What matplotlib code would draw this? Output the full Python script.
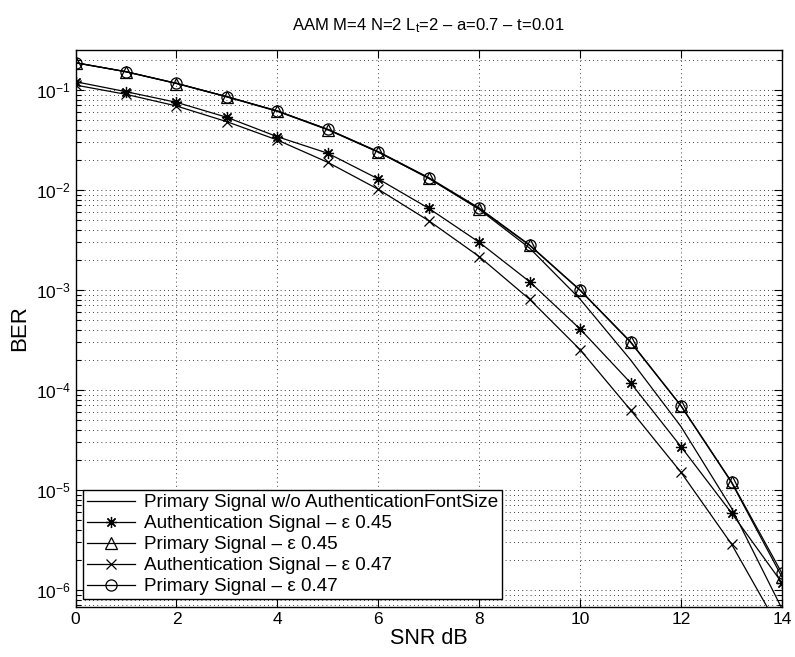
import matplotlib
matplotlib.use("Agg")
import matplotlib.pyplot as plt
from matplotlib.ticker import LogLocator, FixedLocator, FuncFormatter, NullFormatter
import math

plt.rcParams['font.family'] = ['Liberation Sans', 'DejaVu Sans']
plt.rcParams['mathtext.fontset'] = 'custom'
plt.rcParams['mathtext.rm'] = 'Liberation Sans'
plt.rcParams['mathtext.it'] = 'Liberation Sans'
plt.rcParams['mathtext.default'] = 'regular'

snr = [0, 1, 2, 3, 4, 5, 6, 7, 8, 9, 10, 11, 12, 13, 14]

ber_primary_noauth = [0.1875, 0.1525, 0.1166, 0.0858, 0.0617, 0.0404, 0.0240, 0.0131,
                      0.0064, 0.00262, 8.1e-4, 2.0e-4, 4.3e-5, 6.6e-6, 6.5e-7]
ber_auth_045 = [0.121, 0.0962, 0.0753, 0.0533, 0.0341, 0.0233, 0.0129, 0.00656,
                0.0030, 0.00121, 4.07e-4, 1.18e-4, 2.71e-5, 5.9e-6, 1.18e-6]
ber_primary_045 = [0.1870, 0.1520, 0.1160, 0.0852, 0.0612, 0.0400, 0.0239, 0.0131,
                   0.0065, 0.00279, 9.9e-4, 3.0e-4, 6.9e-5, 1.19e-5, 1.35e-6]
ber_auth_047 = [0.112, 0.0905, 0.0692, 0.0482, 0.0316, 0.0189, 0.01016, 0.00493,
                0.00216, 8.07e-4, 2.53e-4, 6.3e-5, 1.5e-5, 2.88e-6, 3.7e-7]
ber_primary_047 = [0.1875, 0.1525, 0.1166, 0.0858, 0.0617, 0.0404, 0.0242, 0.0133,
                   0.0066, 0.00282, 1.0e-3, 3.04e-4, 6.97e-5, 1.21e-5, 1.47e-6]

labels = ["Primary Signal w/o AuthenticationFontSize",
          "Authentication Signal – ε 0.45",
          "Primary Signal – ε 0.45",
          "Authentication Signal – ε 0.47",
          "Primary Signal – ε 0.47"]

title = "AAM M=4 N=2 L$_t$=2 – a=0.7 – t=0.01"
xticks = [0, 2, 4, 6, 8, 10, 12, 14]

fig = plt.figure(figsize=(7.95, 6.57), dpi=100)
ax = fig.add_axes([0.095, 0.0761, 0.8886, 0.8478])

lw = 0.9
ms = 8
ax.plot(snr, ber_primary_noauth, '-', color='k', lw=lw, label=labels[0])
ax.plot(snr, ber_auth_045, '-', color='k', lw=lw, marker=(8, 2, 0), ms=ms,
        mew=0.9, label=labels[1])
ax.plot(snr, ber_primary_045, '-', color='k', lw=lw, marker='^', ms=ms,
        mfc='none', mew=0.9, label=labels[2])
ax.plot(snr, ber_auth_047, '-', color='k', lw=lw, marker='x', ms=6.5,
        mew=0.9, label=labels[3])
ax.plot(snr, ber_primary_047, '-', color='k', lw=lw, marker='o', ms=ms,
        mfc='none', mew=0.9, label=labels[4])

ax.set_yscale('log')
ax.set_xlim(0, 14)
ax.set_ylim(10 ** -6.17, 10 ** -0.6)
ax.xaxis.set_major_locator(FixedLocator(xticks))
ax.yaxis.set_major_locator(LogLocator(base=10, numticks=20))
ax.yaxis.set_minor_locator(LogLocator(base=10, subs=range(2, 10), numticks=20))
ax.yaxis.set_minor_formatter(NullFormatter())

def fmt(v, pos):
    e = int(round(math.log10(v)))
    return r'$10^{%d}$' % e
ax.yaxis.set_major_formatter(FuncFormatter(fmt))

ax.grid(True, which='major', axis='x', linestyle=(0, (1, 4)), color='k', lw=0.6)
ax.grid(True, which='both', axis='y', linestyle=(0, (1, 4)), color='k', lw=0.6)

ax.tick_params(which='both', direction='in', top=True, right=True, labelsize=12.5,
               colors='k', width=0.8)
ax.tick_params(which='major', length=6)
ax.tick_params(which='minor', length=3.5)
for s in ax.spines.values():
    s.set_linewidth(1.0)
    s.set_color('k')

ax.set_title(title, fontsize=12, pad=14)
ax.set_xlabel("SNR dB", fontsize=15.5, labelpad=1)
ax.set_ylabel("BER", fontsize=16, labelpad=4)

leg = ax.legend(loc='lower left', fontsize=13.6, fancybox=False, framealpha=1,
                edgecolor='k', handlelength=2.55, borderaxespad=0.4,
                labelspacing=0.2, borderpad=0.22, handletextpad=0.45)
leg.get_frame().set_linewidth(1.0)

fig.savefig("out.png", dpi=100)
